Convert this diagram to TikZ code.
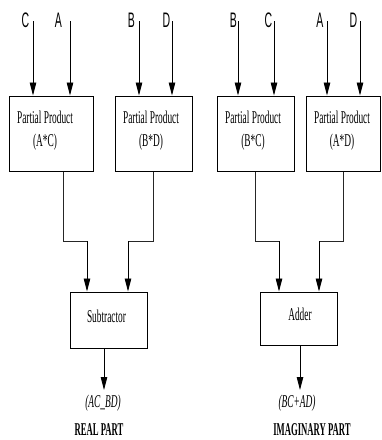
\documentclass[tikz,border=0pt]{standalone}
\usepackage{fontspec}
\usetikzlibrary{arrows.meta}
\newfontfamily\cserif{Liberation Serif}[FakeStretch=0.52]
\newfontfamily\cserifb{Liberation Serif}[FakeStretch=0.48]
\newfontfamily\csans{Liberation Sans}[FakeStretch=0.5]
\begin{document}
\begin{tikzpicture}[x=1pt,y=-1pt,
  box/.style={draw, line width=1pt, inner sep=0pt, minimum height=75pt},
  opbox/.style={draw, line width=1pt, inner sep=0pt, minimum width=77pt},
  txt/.style={inner sep=0pt, align=center, font=\cserif\fontsize{18}{23}\selectfont},
  optxt/.style={inner sep=0pt, font=\cserif\fontsize{18}{21}\selectfont},
  lbl/.style={inner sep=0pt, font=\csans\fontsize{21}{24}\selectfont},
  outtxt/.style={inner sep=0pt, font=\cserif\itshape\fontsize{18}{21}\selectfont},
  parttxt/.style={inner sep=0pt, font=\cserifb\bfseries\fontsize{18}{21}\selectfont},
  arr/.style={line width=0.9pt, -{Triangle[length=13pt,width=6.5pt]}},
  conn/.style={line width=0.8pt, black!85}]
\useasboundingbox (0,0) rectangle (381,440);

% partial product boxes
\node[box, minimum width=84pt] (b1) at (51,133.5) {};
\node[box, minimum width=77pt] (b2) at (153.5,133.5) {};
\node[box, minimum width=77pt] (b3) at (255.5,133.5) {};
\node[box, minimum width=74pt] (b4) at (343,133.5) {};
\node[txt] (t1) at (45,131) {Partial Product\\(A*C)};
\node[txt] (t2) at (151,131) {Partial Product\\(B*D)};
\node[txt] (t3) at (253,131) {Partial Product\\(B*C)};
\node[txt] (t4) at (342,131) {Partial Product\\(A*D)};

% subtractor / adder
\node[opbox, minimum height=56pt] (sub) at (108.5,320) {};
\node[optxt] (subt) at (106.5,316) {Subtractor};
\node[opbox, minimum height=53pt] (add) at (298.5,318.5) {};
\node[optxt] (addt) at (300,314) {Adder};

% input arrows
\coordinate (iC1) at (33,21);
\coordinate (iA1) at (70,21);
\coordinate (iB1) at (139,21);
\coordinate (iD1) at (172,21);
\coordinate (iB2) at (238,21);
\coordinate (iC2) at (274,21);
\coordinate (iA2) at (327,21);
\coordinate (iD2) at (360,21);
\draw[arr] (iC1) -- (iC1 |- b1.north);
\draw[arr] (iA1) -- (iA1 |- b1.north);
\draw[arr] (iB1) -- (iB1 |- b2.north);
\draw[arr] (iD1) -- (iD1 |- b2.north);
\draw[arr] (iB2) -- (iB2 |- b3.north);
\draw[arr] (iC2) -- (iC2 |- b3.north);
\draw[arr] (iA2) -- (iA2 |- b4.north);
\draw[arr] (iD2) -- (iD2 |- b4.north);
\node[lbl] (lC1) at (25.5,20) {C};
\node[lbl] (lA1) at (58.5,20) {A};
\node[lbl] (lB1) at (131.5,20) {B};
\node[lbl] (lD1) at (166.5,20) {D};
\node[lbl] (lB2) at (233.5,20) {B};
\node[lbl] (lC2) at (268.5,20) {C};
\node[lbl] (lA2) at (320,20) {A};
\node[lbl] (lD2) at (353.5,20) {D};

% connectors to subtractor
\coordinate (k1) at (63,241);
\coordinate (d1) at (87,241);
\coordinate (k2) at (153,241);
\coordinate (d2) at (128,241);
\draw[conn] (k1 |- b1.south) -- (k1) -- (d1);
\draw[arr] (d1) -- (d1 |- sub.north);
\draw[conn] (k2 |- b2.south) -- (k2) -- (d2);
\draw[arr] (d2) -- (d2 |- sub.north);

% connectors to adder
\coordinate (k3) at (255,241);
\coordinate (d3) at (279,241);
\coordinate (k4) at (343,241);
\coordinate (d4) at (319,241);
\draw[conn] (k3 |- b3.south) -- (k3) -- (d3);
\draw[arr] (d3) -- (d3 |- add.north);
\draw[conn] (k4 |- b4.south) -- (k4) -- (d4);
\draw[arr] (d4) -- (d4 |- add.north);

% outputs
\coordinate (o1) at (104,390);
\coordinate (o2) at (300,390);
\draw[arr] (o1 |- sub.south) -- (o1);
\draw[arr] (o2 |- add.south) -- (o2);
\node[outtxt] (r1) at (103,403) {(AC\_BD)};
\node[outtxt] (r2) at (297,403) {(BC+AD)};
\node[parttxt] (p1) at (99,429.5) {REAL PART};
\node[parttxt] (p2) at (312,429.5) {IMAGINARY PART};
\end{tikzpicture}
\end{document}
